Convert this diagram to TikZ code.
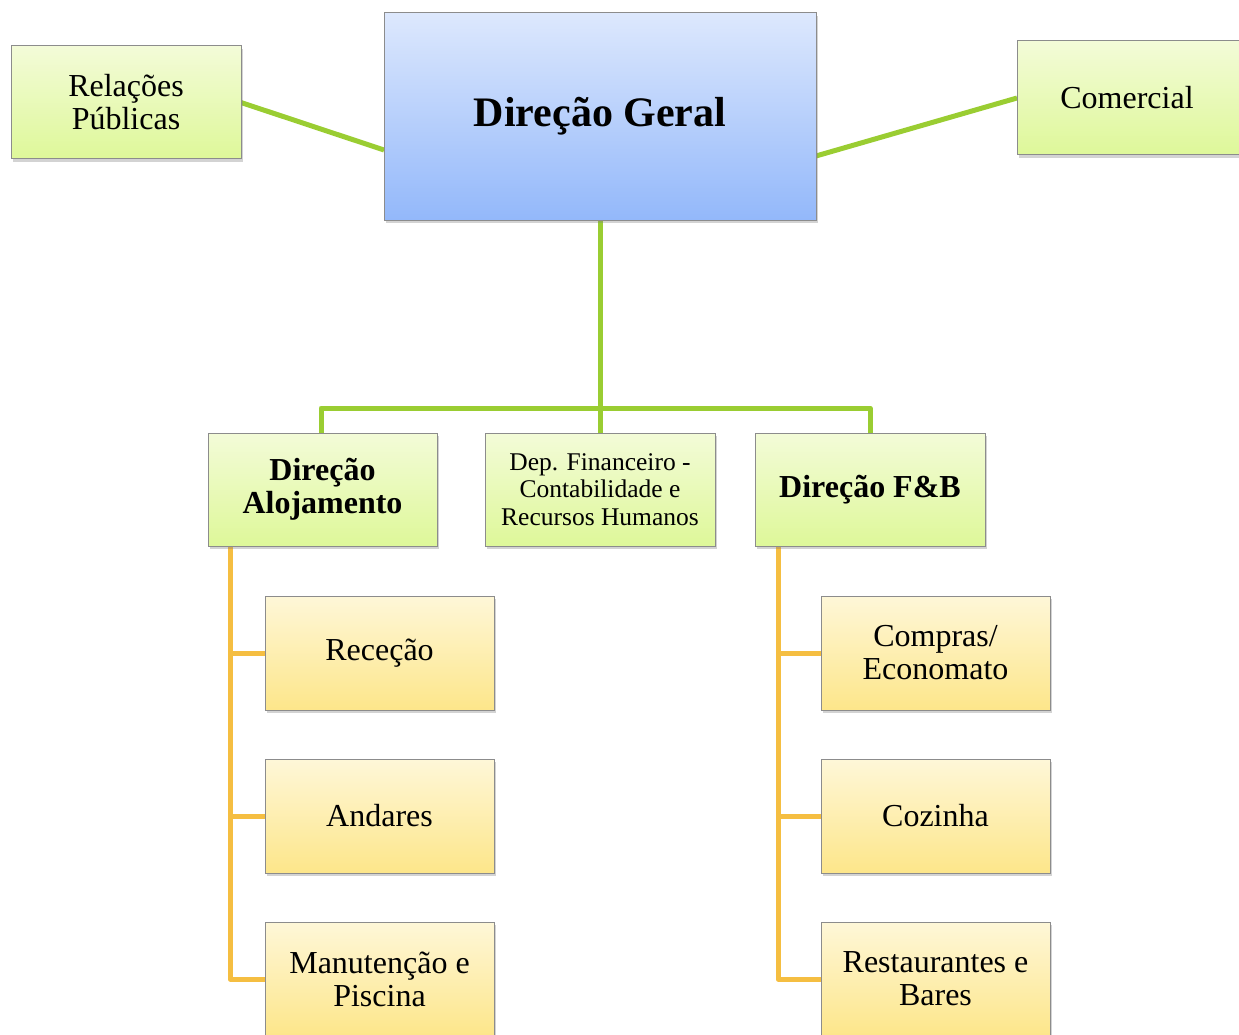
\documentclass[tikz,border=0pt]{standalone}
\usepackage{fontspec}
\setmainfont{Liberation Serif}
\usetikzlibrary{shadows,backgrounds}
\definecolor{linkgreen}{HTML}{9ACD32}
\definecolor{linkorange}{HTML}{F5BE41}
\definecolor{greentop}{HTML}{F3FBD8}
\definecolor{greenbot}{HTML}{DEF899}
\definecolor{bluetop}{HTML}{DDE8FD}
\definecolor{bluebot}{HTML}{93B8FA}
\definecolor{yellowtop}{HTML}{FEF7D8}
\definecolor{yellowbot}{HTML}{FDE68A}
\definecolor{boxline}{HTML}{8C8C8C}
\tikzset{
  x=1pt, y=-1pt,
  unitbox/.style={draw=boxline, line width=1pt, anchor=north west, inner sep=0pt,
    outer sep=0pt, align=center,
    drop shadow={shadow xshift=2pt, shadow yshift=-3pt, opacity=0.35}},
  greenbox/.style={unitbox, top color=greentop, bottom color=greenbot},
  bluebox/.style={unitbox, top color=bluetop, bottom color=bluebot},
  yellowbox/.style={unitbox, top color=yellowtop, bottom color=yellowbot},
  gline/.style={draw=linkgreen, line width=5pt},
  oline/.style={draw=linkorange, line width=5pt},
  txt/.style={font=\fontsize{32}{33}\selectfont},
  smalltxt/.style={font=\fontsize{25.5}{27.5}\selectfont},
  boldtxt/.style={font=\fontsize{32}{33}\selectfont\bfseries},
  bigtxt/.style={font=\fontsize{42}{46}\selectfont\bfseries},
}
\begin{document}
\begin{tikzpicture}
\useasboundingbox (0,0) rectangle (1239,1035);
\clip (0,0) rectangle (1239,1035);

% junction points of the trees
\coordinate (busL) at (321,408);
\coordinate (busM) at (600,408);
\coordinate (busR) at (870,408);
\coordinate (altop) at (230,540);
\coordinate (fbtop) at (778,540);

% boxes
\node[bluebox, minimum width=432pt, minimum height=207pt, bigtxt] (geral) at (384,13) {Direção Geral};
\node[greenbox, minimum width=230pt, minimum height=113pt, txt] (rp) at (11,46) {Relações\\Públicas};
\node[greenbox, minimum width=240pt, minimum height=114pt, txt] (com) at (1017,41) {\hspace*{-10pt}Comercial\hspace*{10pt}};

\node[greenbox, minimum width=229pt, minimum height=113pt, boldtxt] (aloj) at (208,433) {Direção\\Alojamento};
\node[greenbox, minimum width=230pt, minimum height=113pt, smalltxt] (fin) at (485,433) {Dep. Financeiro -\\Contabilidade e\\Recursos Humanos};
\node[greenbox, minimum width=230pt, minimum height=113pt, boldtxt] (fb) at (755,433) {Direção F\&B};

\node[yellowbox, minimum width=229pt, minimum height=114pt, txt] (rec) at (265,596) {Receção};
\node[yellowbox, minimum width=229pt, minimum height=114pt, txt] (and) at (265,759) {Andares};
\node[yellowbox, minimum width=229pt, minimum height=114pt, txt] (man) at (265,922) {Manutenção e\\Piscina};

\node[yellowbox, minimum width=229pt, minimum height=114pt, txt] (comp) at (821,596) {Compras/\\Economato};
\node[yellowbox, minimum width=229pt, minimum height=114pt, txt] (coz) at (821,759) {Cozinha};
\node[yellowbox, minimum width=229pt, minimum height=114pt, txt] (rest) at (821,922) {Restaurantes e\\Bares};

\begin{scope}[on background layer]
% green links
\draw[gline] (rp.east) -- (geral.west |- 0,150);
\draw[gline] (geral.east |- 0,156) -- (com.west);
\draw[gline] (geral.south) -- (busM);
\draw[gline, line join=round] (aloj.north -| busL) -- (busL) -- (busR) -- (fb.north -| busR);
\draw[gline] (busM) -- (fin.north);

% orange links
\draw[oline, line join=round] (aloj.south -| altop) -- (altop |- man.west) -- (man.west);
\draw[oline] (altop |- rec.west) -- (rec.west);
\draw[oline] (altop |- and.west) -- (and.west);
\draw[oline, line join=round] (fb.south -| fbtop) -- (fbtop |- rest.west) -- (rest.west);
\draw[oline] (fbtop |- comp.west) -- (comp.west);
\draw[oline] (fbtop |- coz.west) -- (coz.west);
\end{scope}
\end{tikzpicture}
\end{document}
